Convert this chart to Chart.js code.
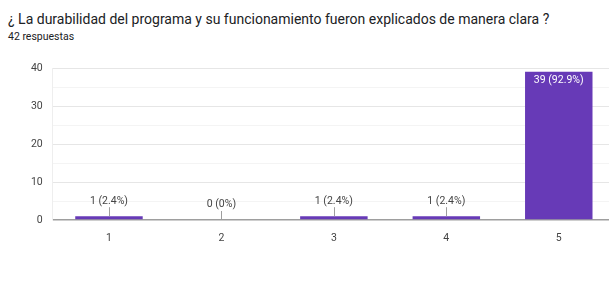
<!DOCTYPE html>
<html>
<head>
<meta charset="utf-8">
<script src="https://cdn.jsdelivr.net/npm/chart.js@4.4.0/dist/chart.umd.min.js"></script>
<style>
    body { margin: 0; width: 609px; height: 281px; overflow: hidden; background: #fff; font-family: Roboto, Arial, sans-serif; position: relative; }
    #title { position: absolute; left: 8px; top: 11px; font-size: 14px; color: #202124; white-space: nowrap; }
    #sub { position: absolute; left: 8px; top: 30px; font-size: 10.5px; color: #202124; }
    #wrap { position: absolute; left: 0; top: 0; width: 620px; height: 281px; }
</style>
</head>
<body>
<div id="title">¿ La durabilidad del programa y su funcionamiento fueron explicados de manera clara ?</div>
<div id="sub">42 respuestas</div>
<div id="wrap"><canvas id="chart"></canvas></div>
<script>
const categories = ["1", "2", "3", "4", "5"];
const answers = [1, 0, 1, 1, 39];
const totalAnswers = 42;
const yTicks = [0, 10, 20, 30, 40];

const barColor = "#673ab7";

function labelFor(v) {
    if (v == 0) return "0 (0%)";
    return v + " (" + (v / totalAnswers * 100).toFixed(1) + "%)";
}

// labels above small bars with a little leader line, inside big ones
const barLabels = {
    id: "barLabels",
    afterDatasetsDraw(chart) {
        const ctx = chart.ctx;
        const meta = chart.getDatasetMeta(0);
        ctx.save();
        ctx.font = "10.5px Roboto, Arial, sans-serif";
        ctx.textAlign = "center";
        meta.data.forEach((bar, i) => {
            const v = answers[i];
            const text = labelFor(v);
            if (v > 10) {
                ctx.fillStyle = "#ffffff";
                ctx.textBaseline = "top";
                ctx.fillText(text, bar.x, bar.y + 3);
            } else {
                ctx.strokeStyle = "#9e9e9e";
                ctx.lineWidth = 1;
                ctx.beginPath();
                ctx.moveTo(Math.round(bar.x) + 0.5, bar.y);
                ctx.lineTo(Math.round(bar.x) + 0.5, bar.y - 9);
                ctx.stroke();
                ctx.fillStyle = "#444444";
                ctx.textBaseline = "bottom";
                ctx.fillText(text, bar.x, bar.y - 10);
            }
        });
        ctx.restore();
    },
};

new Chart(document.getElementById("chart"), {
    type: "bar",
    data: {
        labels: categories,
        datasets: [
            {
                data: answers,
                backgroundColor: barColor,
                borderColor: "#7e57c2",
                borderWidth: 0,
                barPercentage: 0.6,
                categoryPercentage: 1,
            },
        ],
    },
    options: {
        responsive: true,
        maintainAspectRatio: false,
        animation: false,
        layout: {
            padding: { top: 68, left: 0, right: 5, bottom: 0 },
        },
        plugins: {
            legend: { display: false },
            tooltip: { enabled: false },
        },
        scales: {
            x: {
                grid: { display: false },
                border: { display: false },
                ticks: {
                    color: "#444",
                    font: { family: "Roboto, Arial, sans-serif", size: 10.5 },
                    padding: 4,
                },
                afterFit: (scale) => {
                    scale.height = 61;
                },
            },
            y: {
                min: 0,
                max: 40,
                border: { color: "#eeeeee" },
                grid: {
                    drawTicks: false,
                    color: (c) => {
                        const v = c.tick.value;
                        if (v == 0) return "#9e9e9e";
                        return v % 10 == 0 ? "#e6e6e6" : "#f4f4f4";
                    },
                    lineWidth: (c) => (c.tick.value == 0 ? 1.5 : 1),
                },
                ticks: {
                    stepSize: 5,
                    color: "#444",
                    font: { family: "Roboto, Arial, sans-serif", size: 10.5 },
                    padding: 10,
                    callback: (v) => (yTicks.includes(v) ? v : ""),
                },
                afterFit: (scale) => {
                    scale.width = 52.75;
                },
            },
        },
    },
    plugins: [barLabels],
});
</script>
</body>
</html>
